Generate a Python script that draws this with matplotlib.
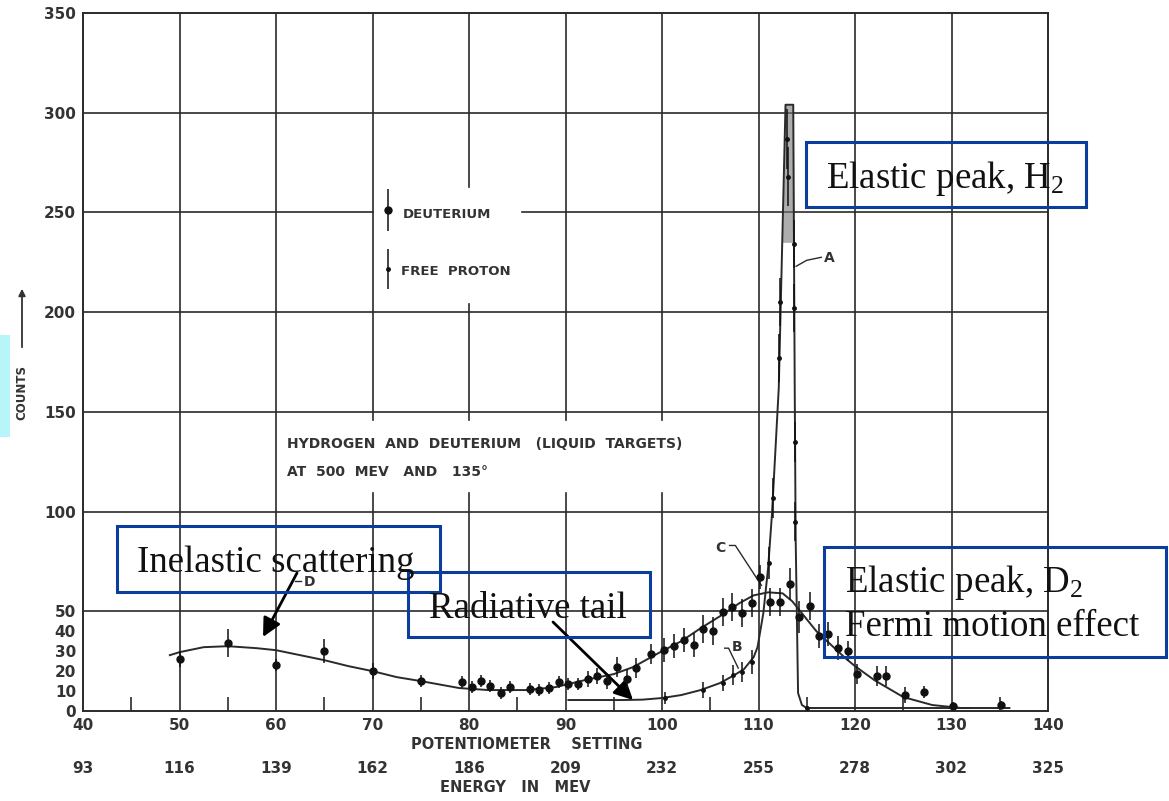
import numpy as np
import matplotlib.pyplot as plt
from matplotlib.patches import Rectangle
from matplotlib.transforms import blended_transform_factory

plt.rcParams['mathtext.fontset'] = 'custom'
plt.rcParams['mathtext.rm'] = 'Liberation Serif'
plt.rcParams['mathtext.it'] = 'Liberation Serif:italic'

# deuterium data points (potentiometer setting, counts, error)
d_pot = [50, 55, 60, 65, 70, 75, 79.3, 80.3, 81.2, 82.2, 83.3, 84.3, 86.3, 87.3, 88.3,
         89.3, 90.3, 91.3, 92.3, 93.3, 94.3, 95.3, 96.4, 97.3, 98.9, 100.2, 101.2, 102.3,
         103.3, 104.3, 105.3, 106.3, 107.3, 108.3, 109.3, 110.2, 111.2, 112.2, 113.3,
         114.2, 115.3, 116.3, 117.2, 118.2, 119.3, 120.2, 122.3, 123.2, 125.2, 127.1,
         130.2, 135.1]
d_counts = [26, 34, 23, 30, 20, 15, 14.5, 12, 15, 12.5, 9, 12, 11, 10.5, 11.5,
            14.5, 13.5, 13.5, 16, 17.5, 15, 22, 16, 21.5, 28.5, 30.5, 32.5, 35.5,
            33, 41, 40, 49.5, 52, 49, 54, 67, 54.5, 54.5, 63.5,
            47, 52.5, 37.5, 38.5, 31.5, 30, 18.5, 17.5, 17.5, 8, 9.5,
            2.5, 3]
d_err = [4, 7, 3, 6, 4, 3, 3, 3, 3, 3, 3, 3, 3, 3, 3,
         3, 3, 3, 4, 4, 4, 5, 5, 5, 5, 6, 6, 6,
         6, 7, 7, 7, 7, 7, 7, 6, 7, 7, 8,
         8, 7, 6, 6, 6, 5, 5, 5, 5, 4, 3,
         2, 2]

# free proton data points
p_pot = [100.3, 104.3, 106.3, 107.4, 108.3, 109.3, 111.1, 111.5, 112.1, 112.2,
         113.0, 113.1, 113.7, 113.7, 113.8, 113.8, 115.0]
p_counts = [6.5, 10.5, 14, 18, 19.5, 24.5, 74, 107, 177, 205,
            287, 268, 234, 202, 135, 95, 1.5]
p_err = [3, 4, 4, 5, 5, 6, 8, 10, 12, 12, 15, 15, 12, 12, 10, 10, 1]

# curve A/B: free proton elastic peak with radiative tail
ab_pot = [90.3, 93, 96, 98, 100, 102, 104, 106, 107.5, 108.5, 109.5, 109.9, 110.5,
          111.0, 111.4, 112.1, 112.8, 113.6, 113.75, 113.85, 114.1, 114.5, 115.0,
          120, 130, 136]
ab_counts = [5.5, 5.5, 5.5, 5.7, 6.5, 8, 10.5, 14, 18, 21, 27, 32, 49,
             72, 99, 162, 304, 304, 165, 87, 9, 3, 1.5,
             1.5, 1.5, 1.5]

# curves C/D: deuterium (inelastic + quasi-elastic)
cd_pot = [49, 50, 52.5, 55, 58, 60, 62.5, 65, 67.5, 70, 72.5, 75, 79, 82, 86, 89,
          92, 95, 97, 100, 102, 104, 106, 108, 109.5, 111, 112.5, 113.5, 114.5, 116,
          117, 118, 119, 120, 122, 125, 128, 130, 131, 132]
cd_counts = [28, 29.5, 32, 32.5, 31.5, 30.5, 28, 25.5, 22.5, 20, 17, 15, 11.5, 10.5,
             10.5, 12, 15.5, 18.5, 22, 30, 35, 41.5, 47.5, 54, 58, 59.5, 59, 55, 49,
             40, 35.5, 31, 26.5, 22.5, 15.5, 7, 3, 2, 1.5, 1.5]

pot_ticks = [40, 50, 60, 70, 80, 90, 100, 110, 120, 130, 140]
energy_labels = ['93', '116', '139', '162', '186', '209', '232', '255', '278', '302', '325']
count_ticks = [0, 10, 20, 30, 40, 50, 100, 150, 200, 250, 300, 350]

W, H = 1169, 801
ink = '#2a2a2a'
blue = '#0b3d9c'
lab_font = dict(family='DejaVu Sans', weight='bold', color='#333333')

fig = plt.figure(figsize=(W / 100, H / 100), dpi=100)
ax = fig.add_axes([83 / W, 1 - 711 / H, (1048 - 83) / W, (711 - 13) / H])
ax.set_xlim(40, 140)
ax.set_ylim(0, 350)

# hand-drawn grid, with gaps where the lettering sits
v_grid = {50: [(0, 350)], 60: [(0, 350)], 70: [(0, 109.5), (146, 350)],
          80: [(0, 109.5), (146, 204), (263, 350)], 90: [(0, 109.5), (146, 350)],
          100: [(0, 109.5), (146, 350)], 110: [(0, 350)], 120: [(0, 350)], 130: [(0, 350)]}
h_grid = {50: [(40, 140)], 100: [(40, 140)], 150: [(40, 140)], 200: [(40, 140)],
          250: [(40, 70.1), (85.5, 140)], 300: [(40, 140)]}
for x, segs in v_grid.items():
    for y0, y1 in segs:
        ax.plot([x, x], [y0, y1], color=ink, lw=1.2, zorder=1)
for y, segs in h_grid.items():
    for x0, x1 in segs:
        ax.plot([x0, x1], [y, y], color=ink, lw=1.2, zorder=1)
for s in ax.spines.values():
    s.set_color(ink)
    s.set_linewidth(1.4)

# ticks
ax.set_xticks(pot_ticks)
ax.set_xticklabels([str(t) for t in pot_ticks], fontsize=11, **lab_font)
ax.set_xticks(np.arange(45, 140, 10), minor=True)
ax.set_yticks(count_ticks)
ax.set_yticklabels([str(t) for t in count_ticks], fontsize=11, **lab_font)
ax.set_yticks([10, 20, 30, 40], minor=True)
ax.tick_params(which='major', length=0, pad=5)
ax.tick_params(which='minor', direction='in', length=10, width=1.2, color=ink)

tr = blended_transform_factory(ax.transData, ax.transAxes)
for x, lab in zip(pot_ticks, energy_labels):
    ax.text(x, -0.082, lab, transform=tr, ha='center', va='center', fontsize=11, **lab_font)
ax.text(86, -0.048, 'POTENTIOMETER    SETTING', transform=tr, ha='center', va='center',
        fontsize=10.5, **lab_font)
ax.text(84.8, -0.11, 'ENERGY   IN   MEV', transform=tr, ha='center', va='center',
        fontsize=10.5, **lab_font)

# y label with arrow
fig.text(22 / W, 1 - 392 / H, 'COUNTS', rotation=90, ha='center', va='center', fontsize=8.5, **lab_font)
ax.annotate('', xy=(22, H - 286), xytext=(22, H - 350), xycoords='figure pixels',
            arrowprops=dict(arrowstyle='-|>', lw=1.3, color='#333333', mutation_scale=10))
fig.add_artist(Rectangle((0, 1 - 437 / H), 10 / W, 102 / H, transform=fig.transFigure,
                         color='#b6f6fa', lw=0))

# curves
ax.plot(cd_pot, cd_counts, color=ink, lw=1.4, zorder=3)
ax.plot(ab_pot, ab_counts, color=ink, lw=1.4, zorder=3)
ax.fill_between(ab_pot, ab_counts, 235, where=np.array(ab_counts) > 235, interpolate=True,
                color='#777777', alpha=0.6, lw=0, zorder=2)

# data
ax.errorbar(d_pot, d_counts, yerr=d_err, fmt='o', ms=5, color='#111111', elinewidth=1.1,
            capsize=0, zorder=4)
ax.errorbar(p_pot, p_counts, yerr=p_err, fmt='o', ms=2.5, color='#111111', elinewidth=1.1,
            capsize=0, zorder=4)

# legend drawn as in the original
ax.errorbar([71.6], [251], yerr=[10.5], fmt='o', ms=5, color='#111111', elinewidth=1.1)
ax.errorbar([71.6], [221.5], yerr=[10], fmt='o', ms=2.5, color='#111111', elinewidth=1.1)
ax.text(73.1, 247, 'DEUTERIUM', fontsize=9.5, va='baseline', **lab_font)
ax.text(73.0, 218.5, 'FREE  PROTON', fontsize=9.5, va='baseline', **lab_font)
ax.text(61.1, 132, 'HYDROGEN  AND  DEUTERIUM   (LIQUID  TARGETS)', fontsize=10,
        va='baseline', **lab_font)
ax.text(61.1, 118, 'AT  500  MEV   AND   135°', fontsize=10, va='baseline', **lab_font)

# curve letters
ax.text(117.3, 227, 'A', fontsize=10, ha='center', va='center', **lab_font)
ax.plot([113.9, 115.0, 116.5], [223, 226, 227.5], color=ink, lw=1)
ax.text(107.8, 32, 'B', fontsize=10, ha='center', va='center', **lab_font)
ax.plot([106.5, 106.9, 107.9], [31.5, 31.5, 21.5], color=ink, lw=1)
ax.text(106.1, 81.5, 'C', fontsize=10, ha='center', va='center', **lab_font)
ax.plot([107.0, 107.6, 110.3], [83, 83, 63], color=ink, lw=1)
ax.text(63.5, 64.5, 'D', fontsize=10, ha='center', va='center', **lab_font)
ax.plot([62.6, 62.0], [65, 65], color=ink, lw=1)

# overlay annotations (blue boxes, serif text, black arrows)
boxes = [(806, 142, 1086, 207), (117, 526, 440, 592), (408, 572, 650, 637), (824, 547, 1166, 657)]
for x0, y0, x1, y1 in boxes:
    fig.add_artist(Rectangle((x0 / W, 1 - y1 / H), (x1 - x0) / W, (y1 - y0) / H,
                             transform=fig.transFigure, fill=False, ec=blue, lw=2.2, zorder=10))
serif = dict(family='Liberation Serif', fontsize=26.6, va='baseline', color='#111111', zorder=11)
fig.text(826 / W, 1 - 188 / H, r'Elastic peak, H$_2$', **serif)
fig.text(137 / W, 1 - 572 / H, 'Inelastic scattering', **serif)
fig.text(429 / W, 1 - 618 / H, 'Radiative tail', **serif)
fig.text(845 / W, 1 - 592 / H, r'Elastic peak, D$_2$', **serif)
fig.text(845 / W, 1 - 636 / H, 'Fermi motion effect', **serif)

arrow = dict(arrowstyle='-|>', lw=2, color='black', mutation_scale=28, shrinkA=0, shrinkB=0)
ax.annotate('', xy=(263, H - 637), xytext=(297, H - 573), xycoords='figure pixels', arrowprops=arrow)
ax.annotate('', xy=(633, H - 700), xytext=(553, H - 622), xycoords='figure pixels', arrowprops=arrow)

fig.savefig('out.png', dpi=100)
